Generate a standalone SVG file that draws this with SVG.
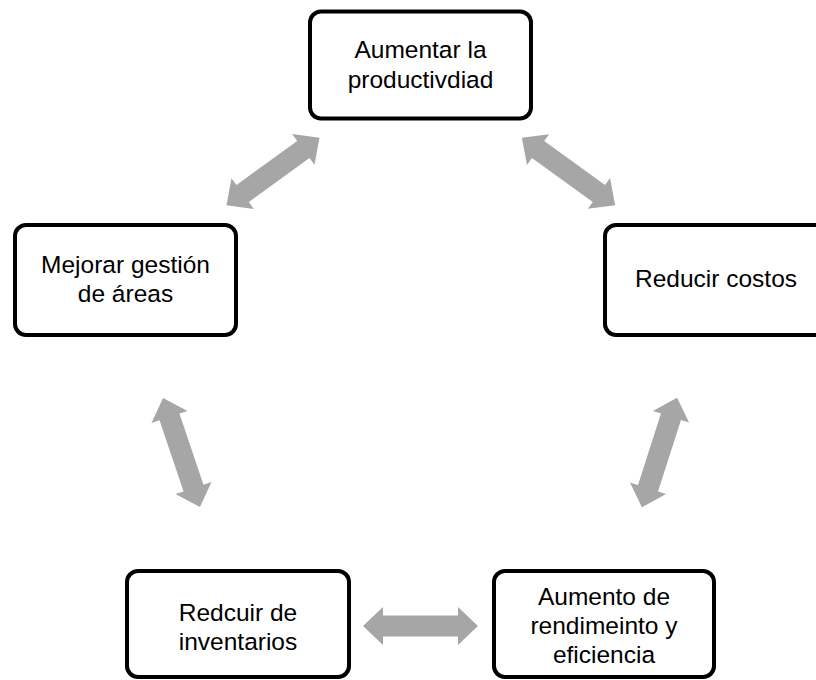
<svg xmlns="http://www.w3.org/2000/svg" xmlns:xlink="http://www.w3.org/1999/xlink" width="816" height="680" viewBox="0 0 816 680">
  <style>
    .box { fill: #ffffff; stroke: #000000; stroke-width: 4; }
    .lbl { font-family: "Liberation Sans", Arial, sans-serif; font-size: 24.5px; fill: #000000; text-anchor: middle; }
    .arr { fill: #A6A6A6; stroke: none; }
  </style>
  <defs>
    <path id="dblArrow" class="arr" d="M -57.5 0 L -37.5 -19 L -37.5 -10.5 L 37.5 -10.5 L 37.5 -19 L 57.5 0 L 37.5 19 L 37.5 10.5 L -37.5 10.5 L -37.5 19 Z"/>
  </defs>
  <rect width="816" height="680" fill="#ffffff"/>

  <g id="connectors">
    <use xlink:href="#dblArrow" href="#dblArrow" transform="translate(273 171.5) rotate(-36)"/>
    <use xlink:href="#dblArrow" href="#dblArrow" transform="translate(568.5 171.5) rotate(35.8)"/>
    <use xlink:href="#dblArrow" href="#dblArrow" transform="translate(181.5 452.5) rotate(71.3)"/>
    <use xlink:href="#dblArrow" href="#dblArrow" transform="translate(659.5 452.5) rotate(-72.2)"/>
    <use xlink:href="#dblArrow" href="#dblArrow" transform="translate(420.5 626)"/>
  </g>

  <g id="node-productividad">
    <rect class="box" x="310" y="11.5" width="221" height="107" rx="11"/>
    <text class="lbl" x="420.5" y="58">Aumentar la</text>
    <text class="lbl" x="420.5" y="88">productivdiad</text>
  </g>

  <g id="node-costos">
    <rect class="box" x="605" y="225" width="221" height="110" rx="11"/>
    <text class="lbl" x="716" y="287">Reducir costos</text>
  </g>

  <g id="node-gestion">
    <rect class="box" x="15" y="225" width="221" height="110" rx="11"/>
    <text class="lbl" x="125.5" y="273">Mejorar gestión</text>
    <text class="lbl" x="125.5" y="302">de áreas</text>
  </g>

  <g id="node-inventarios">
    <rect class="box" x="127" y="571" width="222" height="106" rx="11"/>
    <text class="lbl" x="238" y="621">Redcuir de</text>
    <text class="lbl" x="238" y="650">inventarios</text>
  </g>

  <g id="node-rendimiento">
    <rect class="box" x="494" y="571" width="220" height="106" rx="11"/>
    <text class="lbl" x="604" y="605">Aumento de</text>
    <text class="lbl" x="604" y="634">rendimeinto y</text>
    <text class="lbl" x="604" y="663">eficiencia</text>
  </g>
</svg>
